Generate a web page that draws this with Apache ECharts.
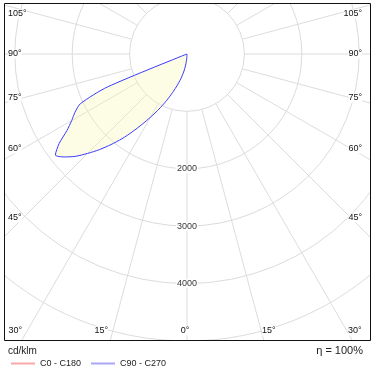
<!DOCTYPE html>
<html>
<head>
<meta charset="utf-8">
<script src="https://cdn.jsdelivr.net/npm/echarts@6/dist/echarts.min.js"></script>
<style>html,body{margin:0;padding:0;background:#fff;}#c{width:374px;height:370px;}</style>
</head>
<body>
<div id="c"></div>
<script>
// gamma angles (deg, 0 = straight down, increasing to the left)
const gammaAngles = [0, 2.5, 5, 7.5, 10, 12.5, 15, 17.5, 20, 22.5, 25, 27.5, 30, 32.5, 35, 37.5, 40, 42.5, 45, 47.5, 50, 52.5, 55, 57.5, 60, 62.5, 65, 67.5, 70, 75, 90, 120, 150, 180];
// C90 - C270 intensities (cd/klm)
const c90c270 = [0, 60, 130, 210, 300, 390, 480, 580, 690, 820, 960, 1110, 1270, 1450, 1650, 1860, 2060, 2260, 2450, 2640, 2790, 2890, 2720, 2480, 2320, 2200, 2050, 1500, 0, 0, 0, 0, 0, 0];
// C0 - C180 intensities (cd/klm)
const c0Angles = [0, 90, 180];
const c0c180 = [0, 0, 0];
// radial grid directions and radius tick labels
const gridAngles = [0, 15, 30, 45, 60, 75, 90, 105, 120, 135, 150, 165, 180, 195, 210, 225, 240, 255, 270, 285, 300, 315, 330, 345];
const radiusLabels = [2000, 3000, 4000];
const sideLabels = ['105°', '90°', '75°', '60°', '45°'];
const bottomLabels = ['30°', '15°', '0°', '15°', '30°'];
const unitText = 'cd/klm';
const etaText = 'η = 100%';

const chart = echarts.init(document.getElementById('c'), null, {renderer: 'canvas'});
const FONT = 'Arial, "Liberation Sans", sans-serif';
const gridColor = '#dcdcdc';

const series = [];
gridAngles.forEach(a => {
  series.push({
    type: 'line', coordinateSystem: 'polar', silent: true, symbol: 'none',
    data: [[1000, a], [6000, a]],
    lineStyle: {color: gridColor, width: 1}, z: 1
  });
});
series.push({
  name: 'C0 - C180', type: 'line', coordinateSystem: 'polar', symbol: 'none',
  data: c0Angles.map((a, i) => [c0c180[i], a]),
  lineStyle: {color: '#ff0000', width: 1}, itemStyle: {color: '#ff0000'}, z: 4
});
series.push({
  name: 'C90 - C270', type: 'line', coordinateSystem: 'polar', symbol: 'none',
  smooth: 0.25,
  data: gammaAngles.map((a, i) => [c90c270[i], a]),
  lineStyle: {color: '#3a3aff', width: 1},
  itemStyle: {color: '#3a3aff'},
  areaStyle: {color: 'rgba(250,245,170,0.45)', origin: 'start'},
  z: 3
});
series.push({
  type: 'scatter', coordinateSystem: 'polar', silent: true, symbolSize: 0,
  data: radiusLabels.map(v => [v, 0]),
  label: {show: true, position: 'inside', formatter: p => String(p.value[0]),
    color: '#000', fontSize: 9, fontFamily: FONT, backgroundColor: '#fff', padding: [0, 1]},
  z: 5
});

const sideY = [14, 54, 98, 149, 218];
const bottomX = [22, 108, 185, 262, 348];
const bottomAlign = ['right', 'right', 'center', 'left', 'left'];
const graphics = [
  // masks outside the frame
  {type: 'rect', shape: {x: 0, y: 0, width: 374, height: 3}, style: {fill: '#fff'}, z: 50},
  {type: 'rect', shape: {x: 0, y: 0, width: 4, height: 370}, style: {fill: '#fff'}, z: 50},
  {type: 'rect', shape: {x: 371, y: 0, width: 3, height: 370}, style: {fill: '#fff'}, z: 50},
  {type: 'rect', shape: {x: 0, y: 341, width: 374, height: 29}, style: {fill: '#fff'}, z: 50},
  {type: 'rect', shape: {x: 4.5, y: 3.5, width: 366, height: 337}, style: {fill: null, stroke: '#111', lineWidth: 1}, z: 60},
  {type: 'text', x: 8, y: 351, style: {text: unitText, font: '10px ' + FONT, fill: '#222', textVerticalAlign: 'middle'}, z: 60},
  {type: 'text', x: 363, y: 351, style: {text: etaText, font: '11px ' + FONT, fill: '#222', textAlign: 'right', textVerticalAlign: 'middle'}, z: 60}
];
sideLabels.forEach((t, i) => {
  graphics.push({type: 'text', x: 8, y: sideY[i], style: {text: t, font: '9px ' + FONT, fill: '#111', textVerticalAlign: 'middle', backgroundColor: '#fff'}, z: 60});
  graphics.push({type: 'text', x: 362, y: sideY[i], style: {text: t, font: '9px ' + FONT, fill: '#111', textAlign: 'right', textVerticalAlign: 'middle', backgroundColor: '#fff'}, z: 60});
});
bottomLabels.forEach((t, i) => {
  graphics.push({type: 'text', x: bottomX[i], y: 331, style: {text: t, font: '9px ' + FONT, fill: '#111', textAlign: bottomAlign[i], textVerticalAlign: 'middle', backgroundColor: '#fff'}, z: 60});
});

chart.setOption({
  animation: false,
  backgroundColor: '#fff',
  polar: {center: [187, 54], radius: 344.4},
  angleAxis: {
    type: 'value', min: 0, max: 360, startAngle: 270, clockwise: true,
    axisLine: {show: false}, axisTick: {show: false}, axisLabel: {show: false}, splitLine: {show: false}
  },
  radiusAxis: {
    type: 'value', min: 0, max: 6000, interval: 1000,
    axisLine: {show: false}, axisTick: {show: false}, axisLabel: {show: false},
    splitLine: {show: true, lineStyle: {color: gridColor, width: 1}}
  },
  legend: {
    left: 6, top: 354, itemWidth: 24, itemHeight: 2, itemGap: 10, icon: 'rect',
    textStyle: {fontSize: 9, fontFamily: FONT, color: '#222'},
    data: [
      {name: 'C0 - C180', itemStyle: {color: '#f7a8a8'}},
      {name: 'C90 - C270', itemStyle: {color: '#a8a8f5'}}
    ],
    z: 70
  },
  graphic: graphics,
  series: series
});
</script>
</body>
</html>
